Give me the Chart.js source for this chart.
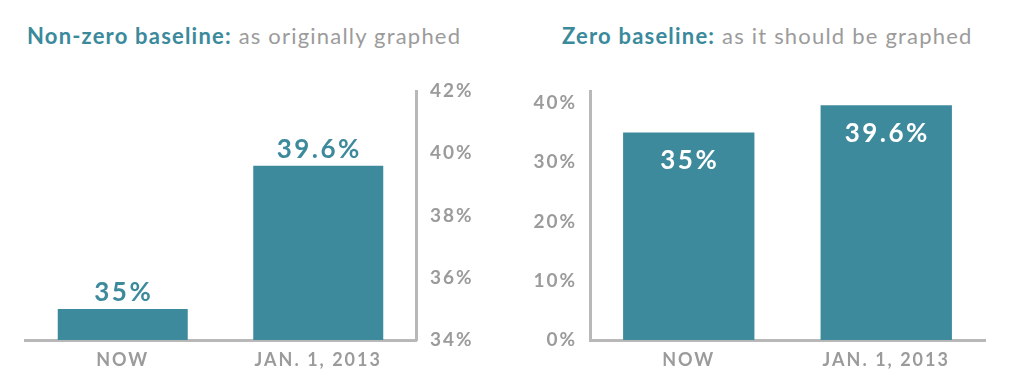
<!DOCTYPE html>
<html>
<head>
<meta charset="utf-8">
<script src="https://cdn.jsdelivr.net/npm/chart.js@4.4.0/dist/chart.umd.min.js"></script>
<style>
body{margin:0;background:#fff;width:1024px;height:391px;overflow:hidden;position:relative;font-family:Lato,"Open Sans",sans-serif;}
.title{position:absolute;top:22px;font-size:22px;white-space:nowrap;color:#9b9b9b;letter-spacing:1.2px;}
.title b{color:#3b8a9c;font-weight:bold;}
.box{position:absolute;top:0;width:512px;height:391px;}
</style>
</head>
<body>
<div class="title" style="left:27px">
  <b>Non-zero baseline:</b> as originally graphed
</div>
<div class="title" style="left:562px">
  <b>Zero baseline:</b> as it should be graphed
</div>
<div class="box" style="left:0"><canvas id="left"></canvas></div>
<div class="box" style="left:512px"><canvas id="right"></canvas></div>
<script>
// Data
let categories=["NOW","JAN. 1, 2013"];
let values=[35,39.6];
let leftTicks=[34,36,38,40,42];
let rightTicks=[0,10,20,30,40];

let teal="#3e8a9d", gray="#9b9b9b", axisGray="#b8b8b8";
Chart.defaults.font.family="Lato, 'Open Sans', sans-serif";
Chart.defaults.animation=false;

// wider lettering, closer to the original typeface
let spacing={id:"spacing",beforeDraw(chart){chart.ctx.letterSpacing="2px";}};

// value labels on bars
function barLabels(inside){
  return {id:"barLabels",afterDatasetsDraw(chart){
    let ctx=chart.ctx; let meta=chart.getDatasetMeta(0);
    ctx.save(); ctx.letterSpacing="2.5px"; ctx.font="bold 26px Lato, 'Open Sans', sans-serif"; ctx.textAlign="center"; ctx.textBaseline="middle";
    meta.data.forEach((bar,i)=>{
      let v=chart.data.datasets[0].data[i];
      if(inside){ctx.fillStyle="#fff"; ctx.fillText(v+"%",bar.x+1,bar.y+28);}
      else{ctx.fillStyle=teal; ctx.fillText(v+"%",bar.x+1,bar.y-16);}
    });
    ctx.restore();
  }};
}

function makeChart(id,opts){
  return new Chart(document.getElementById(id),{
    type:"bar",
    data:{labels:categories,datasets:[{data:values,backgroundColor:teal,categoryPercentage:1,barPercentage:0.665}]},
    options:{
      responsive:true,maintainAspectRatio:false,
      layout:{padding:opts.padding},
      plugins:{legend:{display:false},tooltip:{enabled:false}},
      scales:{
        x:{grid:{display:false,drawTicks:false},border:{color:axisGray,width:3},
           ticks:{color:gray,font:{size:18,weight:"bold"},padding:9},
           afterFit(s){s.height=51;}},
        y:{position:opts.pos,min:opts.min,max:opts.max,
           grid:{display:false,drawTicks:false},border:{color:axisGray,width:3},
           ticks:{color:gray,font:{size:19,weight:"bold"},padding:opts.tickPad,callback:v=>v+"%"},
           afterBuildTicks(s){s.ticks=opts.ticks.map(v=>({value:v}));},
           afterFit(s){s.width=opts.yWidth;}}
      }
    },
    plugins:[spacing,barLabels(opts.inside)]
  });
}

makeChart("left",{padding:{left:25,right:0,top:91,bottom:0},pos:"right",min:34,max:42,ticks:leftTicks,tickPad:14,yWidth:96,inside:false});
makeChart("right",{padding:{left:0,right:39,top:91,bottom:0},pos:"left",min:0,max:42,ticks:rightTicks,tickPad:13,yWidth:78,inside:true});
</script>
</body>
</html>
